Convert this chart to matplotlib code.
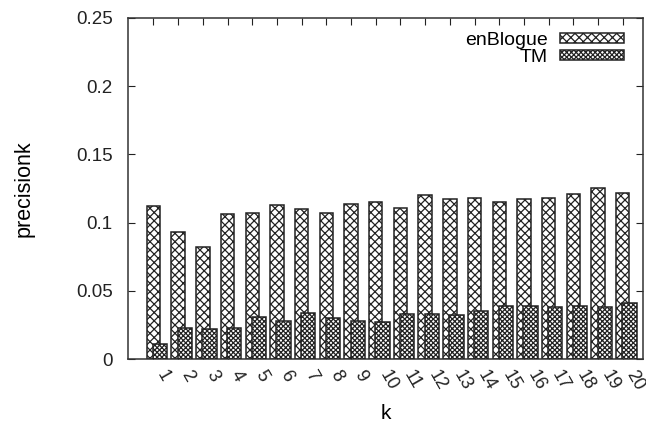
import matplotlib
matplotlib.use("Agg")
import matplotlib.pyplot as plt
import numpy as np

plt.rcParams['font.family'] = ['Liberation Sans', 'DejaVu Sans']
plt.rcParams['hatch.linewidth'] = 0.9

k_labels = [str(i) for i in range(1, 21)]
enblogue = [0.112, 0.093, 0.082, 0.106, 0.107, 0.113, 0.110, 0.107, 0.114, 0.115,
            0.111, 0.120, 0.117, 0.118, 0.115, 0.117, 0.118, 0.121, 0.125, 0.122]
tm = [0.011, 0.023, 0.022, 0.023, 0.031, 0.028, 0.034, 0.030, 0.028, 0.027,
      0.033, 0.033, 0.032, 0.035, 0.039, 0.039, 0.038, 0.039, 0.038, 0.041]

fig = plt.figure(figsize=(6.46, 4.23), dpi=100)
ax = fig.add_axes([128/646, 1 - 359/423, (643-128)/646, (359-18)/423])

x = np.arange(1, 21)
ax.bar(x, enblogue, 0.54, color='white', edgecolor='#222222', hatch='xxxx',
       linewidth=1.1, label='enBlogue', zorder=2)
ax.bar(x + 0.27, tm, 0.58, color='white', edgecolor='#222222', hatch='xxxxxxx',
       linewidth=1.1, label='TM', zorder=3)

ax.set_xlim(-0.03, 20.82)
ax.set_ylim(0, 0.25)
ax.set_yticks([0, 0.05, 0.1, 0.15, 0.2, 0.25])
ax.set_yticklabels(['0', '0.05', '0.1', '0.15', '0.2', '0.25'])
ax.set_xticks(x)
ax.set_xticklabels(k_labels, rotation=-60, ha='left', va='top',
                   rotation_mode='default')
ax.tick_params(axis='both', direction='in', top=True, right=True, length=5,
               colors='#222222')
ax.tick_params(axis='y', pad=11, labelsize=13.5)
ax.tick_params(axis='x', pad=6, labelsize=13)
for s in ax.spines.values():
    s.set_color('#333333')
    s.set_linewidth(1.1)

ax.set_xlabel('k', fontsize=15, labelpad=8)
ax.set_ylabel('precisionk', fontsize=15.5, labelpad=30)

leg = ax.legend(loc='upper right', frameon=False, fontsize=14, markerfirst=False,
                handlelength=3.3, handleheight=0.4, borderaxespad=0.0,
                bbox_to_anchor=(1 - 11/515, 1 - 6/341),
                labelspacing=0.02, handletextpad=0.65)
for t in leg.get_texts():
    t.set_ha('right')

fig.savefig('out.png', dpi=100)
